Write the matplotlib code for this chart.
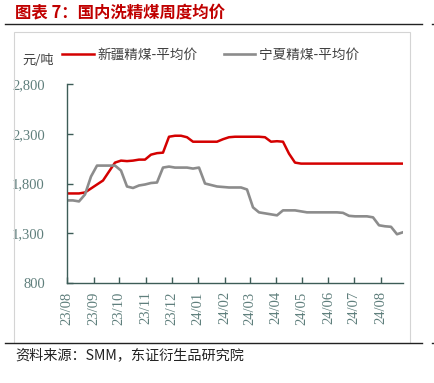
import matplotlib
matplotlib.use('Agg')
import matplotlib.pyplot as plt
import matplotlib.dates as mdates
from matplotlib.patches import Rectangle
from matplotlib.lines import Line2D
import pandas as pd

plt.rcParams['font.family'] = ['Noto Sans CJK SC', 'DejaVu Sans']

# 周度数据 (2023-08-01 起, 每周一个点)
dates = pd.date_range('2023-08-01', periods=57, freq='7D')
xinjiang = [1700, 1700, 1700, 1710, 1750, 1790, 1830, 1920, 2010, 2030,
            2025, 2030, 2040, 2040, 2090, 2105, 2110, 2270, 2280, 2280,
            2265, 2220, 2220, 2220, 2220, 2220, 2245, 2265, 2270, 2270,
            2270, 2270, 2270, 2265, 2220, 2225, 2220, 2100, 2010, 2000,
            2000, 2000, 2000, 2000, 2000, 2000, 2000, 2000, 2000, 2000,
            2000, 2000, 2000, 2000, 2000, 2000, 2000]
ningxia = [1630, 1630, 1620, 1690, 1870, 1980, 1980, 1980, 1980, 1930,
           1770, 1755, 1780, 1790, 1805, 1810, 1960, 1970, 1960, 1960,
           1960, 1950, 1960, 1800, 1785, 1770, 1765, 1760, 1760, 1760,
           1740, 1560, 1510, 1500, 1490, 1480, 1530, 1530, 1530, 1520,
           1510, 1510, 1510, 1510, 1510, 1510, 1505, 1475, 1470, 1470,
           1470, 1460, 1380, 1370, 1365, 1290, 1310]
yticks = [800, 1300, 1800, 2300, 2800]
month_ticks = pd.date_range('2023-08-01', '2024-08-01', freq='MS')

W, H = 435, 383
fig = plt.figure(figsize=(W / 100, H / 100), dpi=100)
ax = fig.add_axes([67 / W, 1 - 283 / H, (403 - 67) / W, (283 - 84) / H])

red = '#D40000'
grey = '#8C8C8C'
axis_col = '#3D5C57'
lab_col = '#5F7F7C'

ax.plot(dates, xinjiang, color=red, lw=1.8, label='新疆精煤-平均价')
ax.plot(dates, ningxia, color=grey, lw=1.9, label='宁夏精煤-平均价')

ax.set_ylim(800, 2800)
ax.set_xlim(dates[0], dates[-1])
ax.set_yticks(yticks)
ax.set_yticklabels([f'{v:,}' for v in yticks])
ax.set_xticks(month_ticks)
ax.xaxis.set_major_formatter(mdates.DateFormatter('%y/%m'))

for s in ['top', 'right']:
    ax.spines[s].set_visible(False)
for s in ['left', 'bottom']:
    ax.spines[s].set_color(axis_col)
    ax.spines[s].set_linewidth(1.0)
ax.tick_params(direction='in', length=4, width=1, color=axis_col,
               labelcolor=lab_col, labelsize=10.5)
ax.tick_params(axis='y', pad=16)
ax.tick_params(axis='x', pad=6)
for t in ax.get_yticklabels() + ax.get_xticklabels():
    t.set_fontfamily('Liberation Serif')
for t in ax.get_xticklabels():
    t.set_rotation(90)
    t.set_ha('center')

leg = ax.legend(loc='lower left', bbox_to_anchor=(-0.03, 1.085), ncol=2,
                frameon=False, fontsize=9.8, handlelength=2.3,
                columnspacing=1.9, handletextpad=0.3, borderaxespad=0)
for t in leg.get_texts():
    t.set_color('#404040')

fig.text(22 / W, 1 - 61 / H, '元/吨', fontsize=9.5, color='#404040',
         ha='left', va='center')

# 外框与分隔线
fig.add_artist(Rectangle((14 / W, 1 - 343 / H), (410 - 14) / W, (343 - 32) / H,
                         transform=fig.transFigure, fill=False,
                         edgecolor='#D4D4D4', lw=0.8))
for y in (24, 343):
    fig.add_artist(Line2D([5 / W, 422 / W], [1 - y / H, 1 - y / H],
                          transform=fig.transFigure, color='#222222', lw=1.0))
    fig.add_artist(Line2D([432 / W, 1], [1 - y / H, 1 - y / H],
                          transform=fig.transFigure, color='#222222', lw=1.0))

fig.text(15 / W, 1 - 12 / H, '图表 7：国内洗精煤周度均价', fontsize=11.8,
         fontweight='bold', color='#C00000', ha='left', va='center')
fig.text(15 / W, 1 - 355 / H, '资料来源：SMM，东证衍生品研究院', fontsize=10.2,
         color='#222222', ha='left', va='center')

fig.savefig('out.png', dpi=100)
